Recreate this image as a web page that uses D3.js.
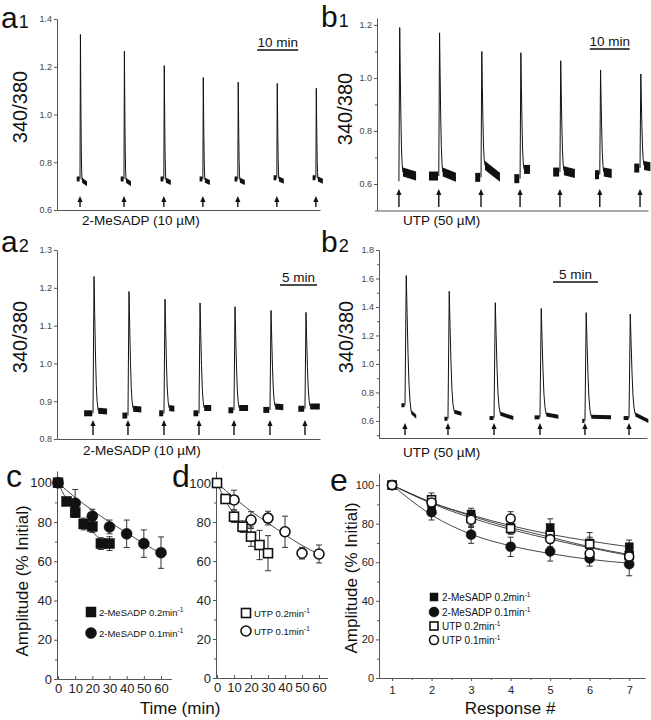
<!DOCTYPE html>
<html><head><meta charset="utf-8">
<script src="https://cdn.jsdelivr.net/npm/d3@7/dist/d3.min.js"></script>
<style>body{margin:0;background:#fff}svg{display:block}</style>
</head><body>
<svg id="fig" width="651" height="720"></svg>
<script>
// ---------------- DATA ----------------
// a1: 2-MeSADP (10 µM), responses every ~10 min
const a1Stim   = [5.6, 16.3, 26.0, 35.5, 44.0, 53.5, 63.0];
const a1Peak   = [1.335, 1.265, 1.205, 1.155, 1.135, 1.13, 1.11];
const a1Before = [0.73, 0.73, 0.73, 0.73, 0.73, 0.735, 0.735];
const a1AfterS = [0.725, 0.725, 0.725, 0.725, 0.725, 0.73, 0.73];
const a1AfterE = [0.71, 0.71, 0.715, 0.715, 0.715, 0.72, 0.72];
const a1Pre    = [0.7, 0.7, 0.7, 0.7, 0.7, 0.7, 0.7];
const a1Post   = [1.2, 1.2, 1.2, 1.2, 1.2, 1.2, 1.2];
const a1Ticks  = [0.6, 0.8, 1.0, 1.2, 1.4];

// b1: UTP (50 µM), every ~10 min
const b1Stim   = [5.5, 15.5, 26.1, 35.9, 45.9, 55.9, 66.0];
const b1Peak   = [1.19, 1.17, 1.10, 1.095, 1.065, 1.03, 1.015];
const b1Before = [0.61, 0.63, 0.625, 0.62, 0.645, 0.635, 0.66];
const b1AfterS = [0.645, 0.645, 0.67, 0.655, 0.65, 0.645, 0.67];
const b1AfterE = [0.63, 0.625, 0.625, 0.655, 0.64, 0.64, 0.665];
const b1Pre    = [0, 2.25, 1.25, 1.25, 1.5, 1.0, 1.25];
const b1Post   = [3.3, 3.3, 3.75, 1.5, 2.75, 2.0, 1.6];
const b1Ticks  = [0.6, 0.8, 1.0, 1.2];
const b1Minor  = [0.5, 0.7, 0.9, 1.1];

// a2: 2-MeSADP (10 µM), every ~5 min
const a2Stim   = [4.86, 9.58, 14.44, 19.17, 23.89, 28.75, 33.47];
const a2Peak   = [1.23, 1.19, 1.17, 1.16, 1.15, 1.14, 1.135];
const a2Before = [0.868, 0.862, 0.868, 0.868, 0.876, 0.877, 0.88];
const a2AfterS = [0.875, 0.88, 0.882, 0.882, 0.882, 0.886, 0.886];
const a2AfterE = [0.873, 0.878, 0.88, 0.882, 0.882, 0.884, 0.886];
const a2Pre    = [1.1, 0.65, 0.55, 0.65, 0.65, 0.8, 0.8];
const a2Post   = [1.2, 1.1, 0.7, 0.95, 1.2, 1.1, 1.3];
const a2Ticks  = [0.8, 0.9, 1.0, 1.1, 1.2, 1.3];

// b2: UTP (50 µM), every ~5 min
const b2Stim   = [2.89, 7.67, 12.79, 17.9, 22.9, 27.8];
const b2Peak   = [1.62, 1.51, 1.43, 1.39, 1.36, 1.35];
const b2Before = [0.71, 0.615, 0.62, 0.625, 0.6, 0.62];
const b2AfterS = [0.66, 0.665, 0.65, 0.645, 0.63, 0.645];
const b2AfterE = [0.63, 0.65, 0.62, 0.63, 0.625, 0.6];
const b2Pre    = [0.35, 0.35, 0.45, 0.55, 0.25, 0.55];
const b2Post   = [0.55, 0.8, 1.45, 1.35, 2.2, 1.45];
const b2Ticks  = [0.6, 0.8, 1.0, 1.2, 1.4, 1.6, 1.8];
const b2Minor  = [0.5, 0.7, 0.9, 1.1, 1.3, 1.5, 1.7];

// c: 2-MeSADP desensitisation vs time
const cSqT = [0, 5, 10, 15, 20, 25, 30];
const cSqV = [100, 90.5, 84.8, 79, 77.7, 69, 69];
const cSqE = [0, 2, 2.5, 3, 3, 3, 3.5];
const cSqFit = [[0,100],[5,91.5],[10,85],[15,79.5],[20,75],[25,71],[30,68.5]];
const cCiT = [0, 10, 20, 30, 40, 50, 60];
const cCiV = [100, 89.6, 83, 77.5, 74, 69, 64.4];
const cCiE = [0, 7, 3.5, 3.5, 7, 7, 8];
const cCiFit = [[0,100],[10,92.5],[20,86],[30,80],[40,74.5],[50,69],[60,64]];

// d: UTP desensitisation vs time
const dSqT = [0, 5, 10, 15, 20, 25, 30];
const dSqV = [100, 91.8, 82.7, 77.6, 72.5, 68.2, 64];
const dSqE = [0, 2, 3, 3, 5, 7.5, 9];
const dSqFit = [[0,100],[5,91],[10,84],[15,78],[20,73],[25,68.5],[30,64.5]];
const dCiT = [10, 20, 30, 40, 50, 60];
const dCiV = [91.3, 81, 82, 75, 64, 63.6];
const dCiE = [5, 4.3, 3.5, 8, 3, 4.6];
const dCiFit = [[0,100],[10,92.5],[20,85.5],[30,79.5],[40,73.5],[50,68],[60,63.5]];

// e: amplitude vs response number
const eResp = [1, 2, 3, 4, 5, 6, 7];
const eMeSADP02 = [100, 89, 85, 78, 78, 70, 68];
const eMeSADP02E = [0, 3, 3, 3, 4.5, 3, 3.5];
const eMeSADP02Fit = [100, 91, 84.5, 79, 74.5, 71, 68];
const eMeSADP01 = [100, 85.9, 74.3, 68, 65.6, 62, 59];
const eMeSADP01E = [0, 4, 4.5, 5, 5, 4, 6];
const eMeSADP01Fit = [100, 84.5, 74.5, 68.5, 64.5, 61.5, 59.5];
const eUTP02 = [100, 92.4, 82.7, 77.5, 74, 69.4, 63.4];
const eUTP02E = [0, 3.5, 4, 3, 4, 6, 4];
const eUTP02Fit = [100, 90.5, 83, 77, 72, 67.5, 63.5];
const eUTP01 = [100, 91, 82, 82.7, 72, 64.5, 63];
const eUTP01E = [0, 3, 4, 3.5, 4, 3, 3];
const eUTP01Fit = [100, 91, 84, 78, 73, 68, 64];

// ---------------- DRAWING ----------------
const FONT = '"Liberation Sans", Arial, Helvetica, sans-serif';
const svg = d3.select('#fig').attr('font-family', FONT);
const INK = '#111';

function styleAxis(g, fs, col) {
  g.select('.domain').attr('stroke', '#555').attr('stroke-width', 1);
  g.selectAll('.tick line').attr('stroke', '#555');
  g.selectAll('.tick text').attr('font-size', fs).attr('fill', col).attr('font-family', FONT);
}

// spike template: [fraction of spike duration, fraction of amplitude]
const spikeShape = [[0,0],[0.2,1],[0.33,0.72],[0.48,0.42],[0.63,0.2],[0.8,0.07],[1,0]];

function tracePanel(p) {
  const x = d3.scaleLinear().domain(p.xd).range(p.xr);
  const y = d3.scaleLinear().domain(p.yd).range(p.yr);
  const g = svg.append('g');
  const ya = g.append('g').attr('transform', `translate(${p.xr[0]},0)`)
    .call(d3.axisLeft(y).tickValues(p.ticks).tickSize(3).tickSizeOuter(0).tickPadding(2).tickFormat(d3.format('.1f')));
  styleAxis(ya, 9, '#444');
  if (p.minor) {
    const ym = g.append('g').attr('transform', `translate(${p.xr[0]},0)`)
      .call(d3.axisLeft(y).tickValues(p.minor).tickSize(2).tickFormat(''));
    ym.select('.domain').remove();
    ym.selectAll('.tick line').attr('stroke', '#555');
  }
  const xa = g.append('g').attr('transform', `translate(0,${p.yr[0]})`)
    .call(d3.axisBottom(x).tickValues([]).tickSizeOuter(0));
  styleAxis(xa, 9, '#444');

  const line = d3.line();
  const h = p.noise / 2;
  const band = d3.area().x(d => d[0]).y0(d => d[1] - h).y1(d => d[1] + h);
  p.stim.forEach((t, i) => {
    const bb = p.before[i], as = p.afterS[i], ae = p.afterE[i], pk = p.peak[i];
    if (p.pre[i] > 0) {
      g.append('path').attr('d', band([[x(t - p.gap - p.pre[i]), y(bb)], [x(t - p.gap), y(bb)]])).attr('fill', INK);
    }
    const pts = spikeShape.map(([fx, fy]) => {
      const base = bb + (as - bb) * fx;
      return [x(t + fx * p.spike), y(base + (pk - base) * fy)];
    });
    g.append('path').attr('d', line(pts)).attr('fill', 'none').attr('stroke', INK).attr('stroke-width', 1);
    g.append('path').attr('d', band([[x(t + p.spike), y(as)], [x(t + p.spike + p.post[i]), y(ae)]])).attr('fill', INK);
    const ax = x(t);
    g.append('line').attr('x1', ax).attr('x2', ax).attr('y1', p.arrow[1]).attr('y2', p.arrow[0] + 4)
      .attr('stroke', INK).attr('stroke-width', 1.4);
    g.append('path').attr('d', `M${ax - 2.6},${p.arrow[0] + 6}L${ax},${p.arrow[0]}L${ax + 2.6},${p.arrow[0] + 6}Z`).attr('fill', INK);
  });
  const sb = p.scaleBar;
  g.append('line').attr('x1', x(sb.t)).attr('x2', x(sb.t + sb.len)).attr('y1', sb.y).attr('y2', sb.y)
    .attr('stroke', INK).attr('stroke-width', 1.5);
  g.append('text').attr('x', (x(sb.t) + x(sb.t + sb.len)) / 2).attr('y', sb.y - 3.5)
    .attr('text-anchor', 'middle').attr('font-size', 13.5).attr('fill', INK).text(sb.label);
  g.append('text').attr('x', p.agX).attr('y', p.agY).attr('font-size', 13.5).attr('fill', INK).text(p.agonist);
  g.append('text').attr('transform', `translate(${p.ylab[0]},${p.ylab[1]}) rotate(-90)`)
    .attr('text-anchor', 'middle').attr('font-size', 20).attr('fill', INK).text('340/380');
  const t = g.append('text').attr('x', p.letterPos[0]).attr('y', p.letterPos[1]).attr('fill', INK);
  t.append('tspan').attr('font-size', 30).text(p.letter[0]);
  t.append('tspan').attr('font-size', 18).attr('dx', 1).text(p.letter[1]);
}

tracePanel({ xd: [0, 64], xr: [57, 320], yd: [0.6, 1.4], yr: [210, 19], ticks: a1Ticks,
  stim: a1Stim, peak: a1Peak, before: a1Before, afterS: a1AfterS, afterE: a1AfterE, pre: a1Pre, post: a1Post,
  spike: 0.5, gap: 0.1, noise: 5, arrow: [196, 207],
  scaleBar: { t: 48.7, len: 10, y: 50, label: '10 min' },
  agonist: '2-MeSADP (10 µM)', agX: 82, agY: 225, ylab: [27, 107], letter: ['a', '1'], letterPos: [1, 28] });

tracePanel({ xd: [0, 68], xr: [377, 648], yd: [0.5, 1.226], yr: [210.5, 18], ticks: b1Ticks, minor: b1Minor,
  stim: b1Stim, peak: b1Peak, before: b1Before, afterS: b1AfterS, afterE: b1AfterE, pre: b1Pre, post: b1Post,
  spike: 1.0, gap: 0.2, noise: 9, arrow: [189, 207],
  scaleBar: { t: 53.4, len: 10, y: 49, label: '10 min' },
  agonist: 'UTP (50 µM)', agX: 403, agY: 225, ylab: [352, 109], letter: ['b', '1'], letterPos: [321, 27] });

tracePanel({ xd: [0, 35.5], xr: [57, 320], yd: [0.8, 1.3], yr: [439, 250], ticks: a2Ticks,
  stim: a2Stim, peak: a2Peak, before: a2Before, afterS: a2AfterS, afterE: a2AfterE, pre: a2Pre, post: a2Post,
  spike: 0.7, gap: 0.1, noise: 6, arrow: [420, 435],
  scaleBar: { t: 30.1, len: 5, y: 285, label: '5 min' },
  agonist: '2-MeSADP (10 µM)', agX: 83, agY: 455, ylab: [27, 337], letter: ['a', '2'], letterPos: [1, 252] });

tracePanel({ xd: [0, 29.8], xr: [379, 647], yd: [0.48, 1.8], yr: [438, 250], ticks: b2Ticks, minor: b2Minor,
  stim: b2Stim, peak: b2Peak, before: b2Before, afterS: b2AfterS, afterE: b2AfterE, pre: b2Pre, post: b2Post,
  spike: 0.7, gap: 0.05, noise: 4, arrow: [423, 435],
  scaleBar: { t: 19.35, len: 5, y: 282, label: '5 min' },
  agonist: 'UTP (50 µM)', agX: 403, agY: 457, ylab: [353, 337], letter: ['b', '2'], letterPos: [321, 252] });

// ---------- bottom panels ----------
function marker(g, cx, cy, shape, filled, size) {
  if (shape === 'square') {
    g.append('rect').attr('x', cx - size / 2).attr('y', cy - size / 2).attr('width', size).attr('height', size)
      .attr('fill', filled ? INK : '#fff').attr('stroke', INK).attr('stroke-width', filled ? 0.5 : 1.6);
  } else {
    g.append('circle').attr('cx', cx).attr('cy', cy).attr('r', size / 2)
      .attr('fill', filled ? INK : '#fff').attr('stroke', INK).attr('stroke-width', filled ? 0.5 : 1.6);
  }
}

function fitPanel(p) {
  const x = d3.scaleLinear().domain(p.xd).range(p.xr);
  const y = d3.scaleLinear().domain([0, 106]).range(p.yr);
  const g = svg.append('g');
  const ya = g.append('g').attr('transform', `translate(${p.xr[0]},0)`)
    .call(d3.axisLeft(y).tickValues([0, 20, 40, 60, 80, 100]).tickSize(3).tickSizeOuter(0).tickPadding(2));
  styleAxis(ya, p.fs, '#222');
  const ym = g.append('g').attr('transform', `translate(${p.xr[0]},0)`)
    .call(d3.axisLeft(y).tickValues([10, 30, 50, 70, 90]).tickSize(2).tickFormat(''));
  ym.select('.domain').remove(); ym.selectAll('.tick line').attr('stroke', '#555');
  const xa = g.append('g').attr('transform', `translate(0,${p.yr[0]})`)
    .call(d3.axisBottom(x).tickValues(p.xticks).tickSize(p.xts).tickSizeOuter(0).tickPadding(p.xpad).tickFormat(d3.format('d')));
  styleAxis(xa, p.fs, '#222');
  if (p.xminor) {
    const xm = g.append('g').attr('transform', `translate(0,${p.yr[0]})`)
      .call(d3.axisBottom(x).tickValues(p.xminor).tickSize(2).tickFormat(''));
    xm.select('.domain').remove(); xm.selectAll('.tick line').attr('stroke', '#555');
  }
  const line = d3.line().curve(d3.curveMonotoneX);
  p.series.forEach(s => {
    g.append('path').attr('d', line(s.fit.map(d => [x(d[0]), y(d[1])])))
      .attr('fill', 'none').attr('stroke', '#333').attr('stroke-width', 0.9);
  });
  p.series.forEach(s => {
    s.t.forEach((t, i) => {
      if (s.e[i] > 0) {
        const cx = x(t), y1 = y(s.v[i] - s.e[i]), y2 = y(s.v[i] + s.e[i]);
        g.append('line').attr('x1', cx).attr('x2', cx).attr('y1', y1).attr('y2', y2).attr('stroke', '#333').attr('stroke-width', 1);
        [y1, y2].forEach(yy => g.append('line').attr('x1', cx - 3).attr('x2', cx + 3).attr('y1', yy).attr('y2', yy).attr('stroke', '#333').attr('stroke-width', 1));
      }
    });
  });
  p.series.forEach(s => {
    s.t.forEach((t, i) => marker(g, x(t), y(s.v[i]), s.shape, s.filled, s.size));
  });
  p.legend.forEach(l => {
    marker(g, l.x, l.y, l.shape, l.filled, l.size);
    const tx = g.append('text').attr('x', l.x + 8).attr('y', l.y + 3.5).attr('font-size', p.lfs).attr('fill', INK);
    tx.append('tspan').text(l.label + 'min');
    tx.append('tspan').attr('font-size', 6.5).attr('dy', -4).text('-1');
  });
  if (p.ylab) {
    g.append('text').attr('transform', `translate(${p.ylab[0]},${p.ylab[1]}) rotate(-90)`)
      .attr('text-anchor', 'middle').attr('font-size', 17).attr('fill', INK).text('Amplitude (% Initial)');
  }
  if (p.letter) g.append('text').attr('x', p.letter[1]).attr('y', p.letter[2]).attr('font-size', 32).attr('fill', INK).text(p.letter[0]);
}

function pairs(t, v) { return t.map((d, i) => [d, v[i]]); }

fitPanel({ xd: [-0.6, 66], xr: [57, 171.3], yr: [679, 471], fs: 13, xticks: [0, 10, 20, 30, 40, 50, 60], xts: -3, xpad: 5,
  series: [
    { t: cCiT, v: cCiV, e: cCiE, fit: cCiFit, shape: 'circle', filled: true, size: 11 },
    { t: cSqT, v: cSqV, e: cSqE, fit: cSqFit, shape: 'square', filled: true, size: 10 }
  ],
  legend: [
    { x: 91, y: 612, shape: 'square', filled: true, size: 10, label: '2-MeSADP 0.2' },
    { x: 91, y: 633, shape: 'circle', filled: true, size: 11, label: '2-MeSADP 0.1' }
  ], lfs: 9.5, ylab: [28, 581], letter: ['c', 6, 487] });

fitPanel({ xd: [-0.6, 65], xr: [216, 327.5], yr: [678, 471.3], fs: 13, xticks: [0, 10, 20, 30, 40, 50, 60], xts: -3, xpad: 5,
  series: [
    { t: dCiT, v: dCiV, e: dCiE, fit: dCiFit, shape: 'circle', filled: false, size: 10 },
    { t: dSqT, v: dSqV, e: dSqE, fit: dSqFit, shape: 'square', filled: false, size: 9 }
  ],
  legend: [
    { x: 246, y: 613, shape: 'square', filled: false, size: 9, label: 'UTP 0.2' },
    { x: 246, y: 631, shape: 'circle', filled: false, size: 10, label: 'UTP 0.1' }
  ], lfs: 9.5, ylab: null, letter: ['d', 172, 487] });

fitPanel({ xd: [0.67, 7.4], xr: [379, 645], yr: [678, 473.5], fs: 11, xticks: eResp, xts: 3, xpad: 5, xminor: [1.5, 2.5, 3.5, 4.5, 5.5, 6.5],
  series: [
    { t: eResp, v: eMeSADP01, e: eMeSADP01E, fit: pairs(eResp, eMeSADP01Fit), shape: 'circle', filled: true, size: 10 },
    { t: eResp, v: eMeSADP02, e: eMeSADP02E, fit: pairs(eResp, eMeSADP02Fit), shape: 'square', filled: true, size: 8 },
    { t: eResp, v: eUTP02, e: eUTP02E, fit: pairs(eResp, eUTP02Fit), shape: 'square', filled: false, size: 8 },
    { t: eResp, v: eUTP01, e: eUTP01E, fit: pairs(eResp, eUTP01Fit), shape: 'circle', filled: false, size: 9 }
  ],
  legend: [
    { x: 434, y: 597, shape: 'square', filled: true, size: 8, label: '2-MeSADP 0.2' },
    { x: 434, y: 612, shape: 'circle', filled: true, size: 10, label: '2-MeSADP 0.1' },
    { x: 434, y: 626, shape: 'square', filled: false, size: 8, label: 'UTP 0.2' },
    { x: 434, y: 640, shape: 'circle', filled: false, size: 9, label: 'UTP 0.1' }
  ], lfs: 10, ylab: [357, 578], letter: ['e', 330, 491] });

svg.append('text').attr('x', 180).attr('y', 714).attr('text-anchor', 'middle').attr('font-size', 17).attr('fill', INK).text('Time (min)');
svg.append('text').attr('x', 510).attr('y', 714).attr('text-anchor', 'middle').attr('font-size', 17).attr('fill', INK).text('Response #');
</script>
</body></html>
